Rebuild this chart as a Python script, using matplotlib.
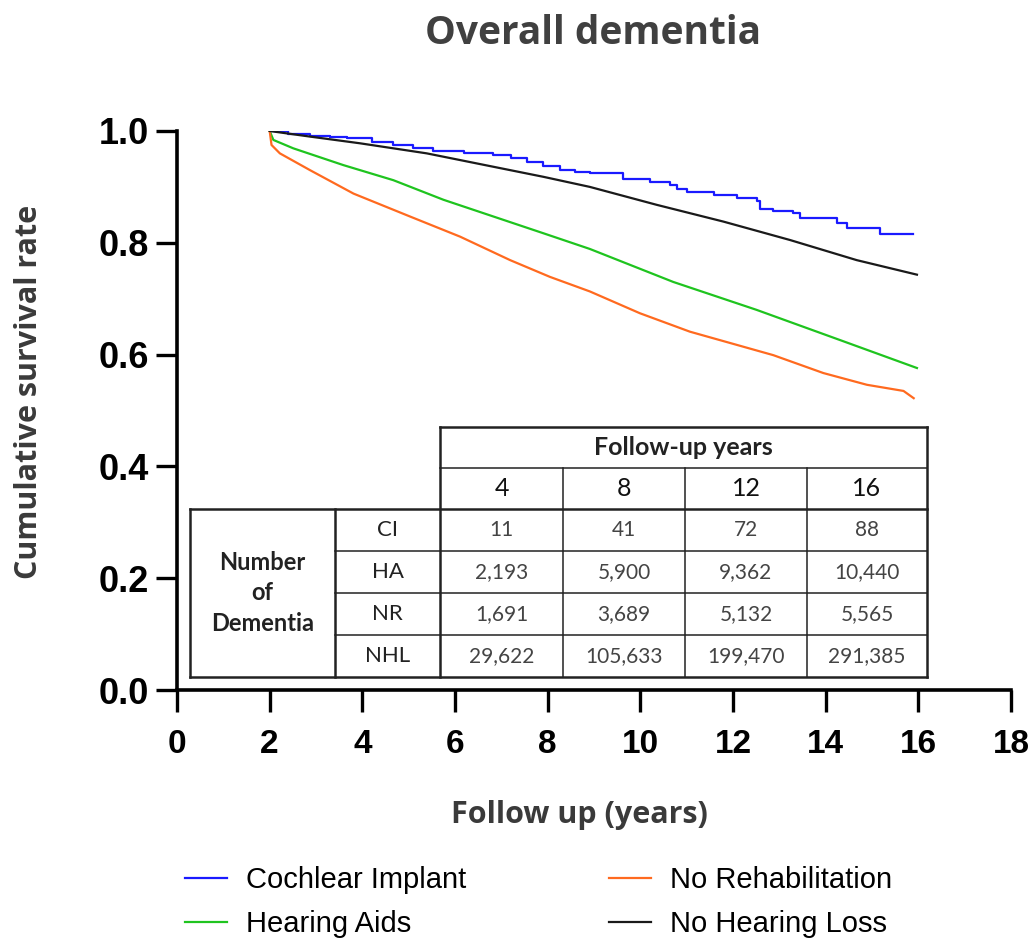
import matplotlib
matplotlib.use("Agg")
import matplotlib.pyplot as plt
from matplotlib.lines import Line2D

# Kaplan-Meier curves (years, cumulative survival)
ci_years = [2.0, 2.4, 2.87, 3.3, 3.66, 4.2, 4.67, 5.1, 5.53, 6.2, 6.83, 7.2, 7.55, 7.9, 8.27, 8.6,
            8.91, 9.63, 10.21, 10.64, 10.79, 11.0, 11.58, 12.08, 12.51, 12.58, 12.87, 13.3,
            13.45, 14.24, 14.45, 15.17, 15.89]
ci_surv = [1.0, 0.995, 0.991, 0.989, 0.987, 0.981, 0.975, 0.970, 0.965, 0.961, 0.957, 0.951,
           0.945, 0.937, 0.930, 0.927, 0.924, 0.915, 0.909, 0.903, 0.896, 0.890, 0.886, 0.880,
           0.874, 0.860, 0.856, 0.853, 0.844, 0.835, 0.826, 0.815, 0.815]

ha_years = [2.0, 2.08, 2.51, 3.59, 4.67, 5.75, 6.83, 7.91, 8.91, 10.71, 12.51, 14.31, 15.97]
ha_surv = [1.0, 0.984, 0.969, 0.939, 0.912, 0.877, 0.847, 0.817, 0.789, 0.730, 0.680, 0.626, 0.576]

nr_years = [2.0, 2.04, 2.22, 2.87, 3.81, 5.03, 6.11, 7.19, 8.05, 8.91, 9.99, 11.07, 12.87,
            13.95, 14.89, 15.68, 15.9]
nr_surv = [1.0, 0.975, 0.960, 0.930, 0.888, 0.847, 0.811, 0.769, 0.739, 0.713, 0.674, 0.641,
           0.599, 0.567, 0.546, 0.535, 0.522]

nhl_years = [2.0, 2.87, 3.95, 5.39, 6.83, 7.91, 8.91, 10.35, 11.79, 13.23, 14.67, 15.97]
nhl_surv = [1.0, 0.990, 0.978, 0.960, 0.936, 0.918, 0.900, 0.868, 0.838, 0.805, 0.769, 0.743]

labels = ["Cochlear Implant", "Hearing Aids", "No Rehabilitation", "No Hearing Loss"]
colors = ["#1a1aff", "#1fc41f", "#ff6a1f", "#1a1a1a"]

# number-at-risk style table
table_years = ["4", "8", "12", "16"]
table_groups = ["CI", "HA", "NR", "NHL"]
table_counts = [
    ["11", "41", "72", "88"],
    ["2,193", "5,900", "9,362", "10,440"],
    ["1,691", "3,689", "5,132", "5,565"],
    ["29,622", "105,633", "199,470", "291,385"],
]

W, H = 1035, 943
fig = plt.figure(figsize=(W / 100, H / 100), dpi=100)
ax = fig.add_axes([177 / W, 1 - 690 / H, 834 / W, 559 / H])

ax.step(ci_years, ci_surv, where="post", color=colors[0], lw=1.6)
ax.plot(ha_years, ha_surv, color=colors[1], lw=1.6)
ax.plot(nr_years, nr_surv, color=colors[2], lw=1.6)
ax.plot(nhl_years, nhl_surv, color=colors[3], lw=1.6)

ax.set_xlim(0, 18)
ax.set_ylim(0, 1.0)
ax.set_xticks(range(0, 19, 2))
ax.set_yticks([0.0, 0.2, 0.4, 0.6, 0.8, 1.0])
ax.set_yticklabels(["0.0", "0.2", "0.4", "0.6", "0.8", "1.0"])
for s in ["top", "right"]:
    ax.spines[s].set_visible(False)
for s in ["left", "bottom"]:
    ax.spines[s].set_linewidth(2.6)
ax.tick_params(axis="x", length=16, width=2.4, pad=12)
ax.tick_params(axis="y", length=15, width=2.4, pad=5)
for lab in ax.get_xticklabels():
    lab.set_family("Liberation Sans")
    lab.set_fontweight("bold")
    lab.set_fontsize(24)
for lab in ax.get_yticklabels():
    lab.set_family("Liberation Sans")
    lab.set_fontweight("bold")
    lab.set_fontsize(26)

ax.set_xlabel("Follow up (years)", family="Open Sans", fontweight="bold", fontsize=22,
              color="#3a3a3a")
ax.xaxis.set_label_coords(0.483, -0.197)
ax.set_ylabel("Cumulative survival rate", family="Open Sans", fontweight="bold", fontsize=22,
              color="#3a3a3a")
ax.yaxis.set_label_coords(-0.16, 0.533)
fig.text(593 / W, 1 - 33 / H, "Overall dementia", family="Open Sans", fontweight="bold",
         fontsize=28, color="#404040", ha="center", va="center")

# table drawn in pixel coordinates on an overlay axes
tx = fig.add_axes([0, 0, 1, 1], facecolor="none")
tx.set_xlim(0, W)
tx.set_ylim(H, 0)
tx.axis("off")
cx = [190, 335, 440, 563, 685, 807, 927]
ry = [427, 468, 509, 551, 593, 635, 677]
thick, thin = 1.8, 1.1
lc = "#222222"
tx.plot([cx[2], cx[6]], [ry[0], ry[0]], color=lc, lw=thick)
tx.plot([cx[2], cx[6]], [ry[1], ry[1]], color=lc, lw=thin)
tx.plot([cx[0], cx[6]], [ry[2], ry[2]], color=lc, lw=thick)
tx.plot([cx[0], cx[6]], [ry[6], ry[6]], color=lc, lw=thick)
for yy in ry[3:6]:
    tx.plot([cx[1], cx[6]], [yy, yy], color=lc, lw=thin)
tx.plot([cx[2], cx[2]], [ry[0], ry[6]], color=lc, lw=thick)
tx.plot([cx[6], cx[6]], [ry[0], ry[6]], color=lc, lw=thick)
tx.plot([cx[0], cx[0]], [ry[2], ry[6]], color=lc, lw=thick)
tx.plot([cx[1], cx[1]], [ry[2], ry[6]], color=lc, lw=thick)
for xx in cx[3:6]:
    tx.plot([xx, xx], [ry[1], ry[6]], color=lc, lw=thin)

tfont = "Lato"
tx.text((cx[2] + cx[6]) / 2, (ry[0] + ry[1]) / 2, "Follow-up years", family=tfont,
        fontweight="bold", fontsize=18, ha="center", va="center", color="#222222")
for j, yr in enumerate(table_years):
    tx.text((cx[2 + j] + cx[3 + j]) / 2, (ry[1] + ry[2]) / 2, yr, family=tfont,
            fontsize=18, ha="center", va="center", color="#111111")
tx.text((cx[0] + cx[1]) / 2, (ry[2] + ry[6]) / 2, "Number\nof\nDementia", family=tfont,
        fontweight="bold", fontsize=17, ha="center", va="center", color="#222222",
        linespacing=1.4)
for i, g in enumerate(table_groups):
    yc = (ry[2 + i] + ry[3 + i]) / 2
    tx.text((cx[1] + cx[2]) / 2, yc, g, family=tfont, fontsize=16, ha="center",
            va="center", color="#222222")
    for j, v in enumerate(table_counts[i]):
        tx.text((cx[2 + j] + cx[3 + j]) / 2, yc, v, family=tfont, fontsize=15,
                ha="center", va="center", color="#444444")

handles = [Line2D([], [], color=c, lw=1.6) for c in colors]
fig.legend(handles, labels, loc="upper left", bbox_to_anchor=(176 / W, 1 - 857 / H),
           ncol=2, frameon=False, prop={"family": "Liberation Sans", "size": 21},
           handlelength=1.45, handletextpad=0.65, columnspacing=4.9, labelspacing=0.55,
           borderaxespad=0, borderpad=0.3)

fig.savefig("out.png", dpi=100)
